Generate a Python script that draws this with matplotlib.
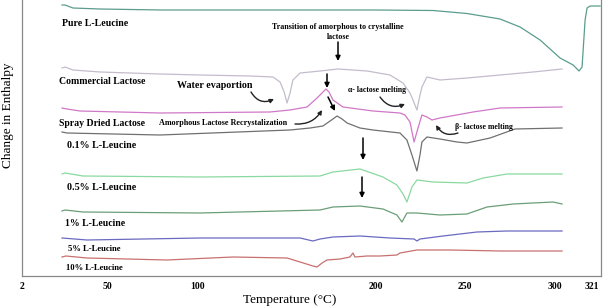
import matplotlib
matplotlib.use("Agg")
import matplotlib.pyplot as plt

plt.rcParams['font.family'] = ['Liberation Serif', 'DejaVu Serif']

# DSC traces: temperature (C) and relative heat-flow signal (offset per sample)
pure_T = [24.4, 26.1, 30.5, 45.6, 80, 120, 160, 200, 232, 251, 269.5, 280.7, 291.9, 303.1,
          310.4, 313.7, 315.4, 316.2, 317.1, 318.2, 319.9, 325.5]
pure_y = [271, 271, 268, 267, 266, 266, 266, 266, 265.5, 262.5, 257, 249, 236, 218,
          211, 205, 209, 231, 256, 268, 270, 270]

comm_T = [24.4, 26.1, 30.5, 45.6, 79.2, 101.6, 129.6, 142.5, 146.4, 148.7, 150.3, 152, 153.6,
          157.6, 168.8, 178.8, 195.1, 207.9, 215.2, 219.1, 220.8, 223, 224.7, 225.8, 228.6,
          235.9, 251, 269.5, 288, 304.2]
comm_y = [208, 209, 206, 204, 202, 201, 200, 199, 194, 184, 173, 183, 196,
          203, 205, 207, 205, 201, 193, 183, 176, 166, 181, 189, 199,
          196, 198, 201, 204, 207]

spray_T = [24.4, 27.2, 34.5, 79.2, 140.8, 152, 161.5, 167.1, 169.9, 172.1, 173.8, 176, 181.6,
           198.4, 213.5, 216.3, 219.1, 221.4, 223.6, 225.8, 228.6, 231.4, 235.9, 254.4, 269.5, 304.2]
spray_y = [168, 167, 165, 163, 164, 166, 169, 178, 183, 187, 184, 176, 169,
           165, 163, 161, 154, 134, 148, 161, 159, 156, 158, 164, 168, 169]

l01_T = [24.4, 27.2, 79.2, 152, 163.2, 170.4, 176, 178.3, 181.1, 183.9, 191.1, 198.4, 213.5,
         217.4, 220.2, 223, 224.7, 225.8, 228.6, 235.9, 245.4, 251, 263.9, 277.9, 304.2]
l01_y = [144, 143, 141, 146, 148, 150, 157, 160, 157, 153, 148, 146, 143,
         136, 121, 105, 121, 134, 139, 137, 134, 133, 138, 147, 148]

l05_T = [24.4, 26.1, 36.1, 101.6, 168.8, 176, 191.1, 204, 211.8, 215.2, 217.4, 220.2, 223,
         232, 251, 260, 273.4, 304.2]
l05_y = [102, 103, 100, 99, 100, 104, 107, 99, 91, 82, 74, 89, 96, 94, 93, 98, 102, 102]

l1_T = [24.4, 26.1, 36.1, 101.6, 168.8, 176, 191.1, 204, 211.8, 214.6, 217.4, 223, 235.9,
        251, 262.2, 276.8, 299.2, 304.2]
l1_y = [65, 66, 64, 63, 66, 69, 70, 67, 61, 54, 63, 63, 61, 62, 69, 72, 74, 72]

l5_T = [24.4, 38.4, 101.6, 157.6, 164.8, 168.8, 176, 191.1, 207.9, 221.4, 223, 224.7, 237.6,
        256.6, 273.4, 304.2]
l5_y = [38, 36, 38, 38, 35, 37, 39, 40, 38, 37, 35, 37, 40, 44, 45, 45]

l10_T = [24.4, 26.6, 38.4, 83.1, 120.1, 150.3, 157.6, 164.8, 167.1, 169.9, 172.7, 180, 185.5,
         187.2, 188.3, 195.1, 202.4, 211.8, 213.5, 223, 241.5, 269.5, 304.2]
l10_y = [19, 20, 18, 16, 19, 18, 14, 10, 9, 13, 16, 17, 19, 23, 19, 20, 20, 21, 23, 26, 26, 25, 25]

xticks = [2, 50, 100, 200, 250, 300, 321]

fig = plt.figure(figsize=(6.07, 3.08), dpi=100)
ax = fig.add_axes([22 / 607, 32 / 308, 579 / 607, 276 / 308])
ax.set_xlim(2, 326)
ax.set_ylim(0, 276)

ax.plot(pure_T, pure_y, color='#5b9c8c', lw=0.9)
ax.plot(comm_T, comm_y, color='#c4bccc', lw=0.9)
ax.plot(spray_T, spray_y, color='#d078c8', lw=0.9)
ax.plot(l01_T, l01_y, color='#707070', lw=0.9)
ax.plot(l05_T, l05_y, color='#8ad9a0', lw=0.9)
ax.plot(l1_T, l1_y, color='#6a9e78', lw=0.9)
ax.plot(l5_T, l5_y, color='#6a6ac0', lw=0.9)
ax.plot(l10_T, l10_y, color='#c87070', lw=0.9)


def P(x, y):
    # pixel position in the picture -> data coordinates
    return (2 + (x - 22) / 1.787, 276 - y)


bold = dict(fontweight='bold', va='center', ha='left', color='black')
ax.text(*P(62, 23), "Pure L-Leucine", fontsize=7.1, **bold)
ax.text(*P(59, 82), "Commercial Lactose", fontsize=7, **bold)
ax.text(*P(59, 123), "Spray Dried Lactose", fontsize=7, **bold)
ax.text(*P(67, 145), "0.1% L-Leucine", fontsize=7.2, **bold)
ax.text(*P(67, 188), "0.5% L-Leucine", fontsize=7.2, **bold)
ax.text(*P(65, 223), "1% L-Leucine", fontsize=7, **bold)
ax.text(*P(68, 249), "5% L-Leucine", fontsize=6.2, **bold)
ax.text(*P(66, 268), "10% L-Leucine", fontsize=6.2, **bold)
ax.text(*P(177, 85), "Water evaportion", fontsize=7.2, **bold)
ax.text(*P(159, 123), "Amorphous Lactose Recrystalization", fontsize=5.9, **bold)
ax.text(*P(348, 90), "\u03b1- lactose melting", fontsize=5.6, **bold)
ax.text(*P(455, 127), "\u03b2- lactose melting", fontsize=5.6, **bold)
ax.text(*P(338, 32), "Transition of amorphous to crystalline\nlactose", fontsize=5.8,
        fontweight='bold', ha='center', va='center', linespacing=1.2)

straight = dict(arrowstyle='-|>', color='black', lw=1.1, mutation_scale=7,
                shrinkA=0, shrinkB=0)
for (x0, y0, x1, y1) in [(338, 42, 338, 61), (327, 74, 327, 88), (328, 97, 335, 111),
                         (363, 138, 363, 160), (362, 177, 362, 198)]:
    ax.annotate("", xy=P(x1, y1), xytext=P(x0, y0), arrowprops=straight)

for (x0, y0, x1, y1, rad) in [(251, 92, 274, 99, 0.45), (295, 124, 322, 110, 0.3),
                              (380, 97, 405, 104, 0.4), (458, 133, 436, 125, -0.4)]:
    ax.annotate("", xy=P(x1, y1), xytext=P(x0, y0),
                arrowprops=dict(arrowstyle='-|>', color='#222222', lw=1.0, mutation_scale=6,
                                shrinkA=0, shrinkB=0, connectionstyle=f"arc3,rad={rad}"))

for side in ['left', 'bottom', 'right']:
    ax.spines[side].set_color('#888888')
    ax.spines[side].set_linewidth(0.9)
ax.spines['top'].set_visible(False)
ax.set_yticks([])
ax.set_xticks(xticks)
ax.set_xticklabels([str(t) for t in xticks], fontweight='bold', fontsize=7)
ax.tick_params(axis='x', length=0, pad=4)

fig.text(8 / 607, 1 - 115 / 308, "Change in Enthalpy", rotation=90, fontsize=9.5,
         ha='center', va='center')
fig.text(290 / 607, 1 - 300 / 308, "Temperature (\u00b0C)", fontsize=9.5,
         ha='center', va='center')

fig.savefig("out.png", dpi=100)
